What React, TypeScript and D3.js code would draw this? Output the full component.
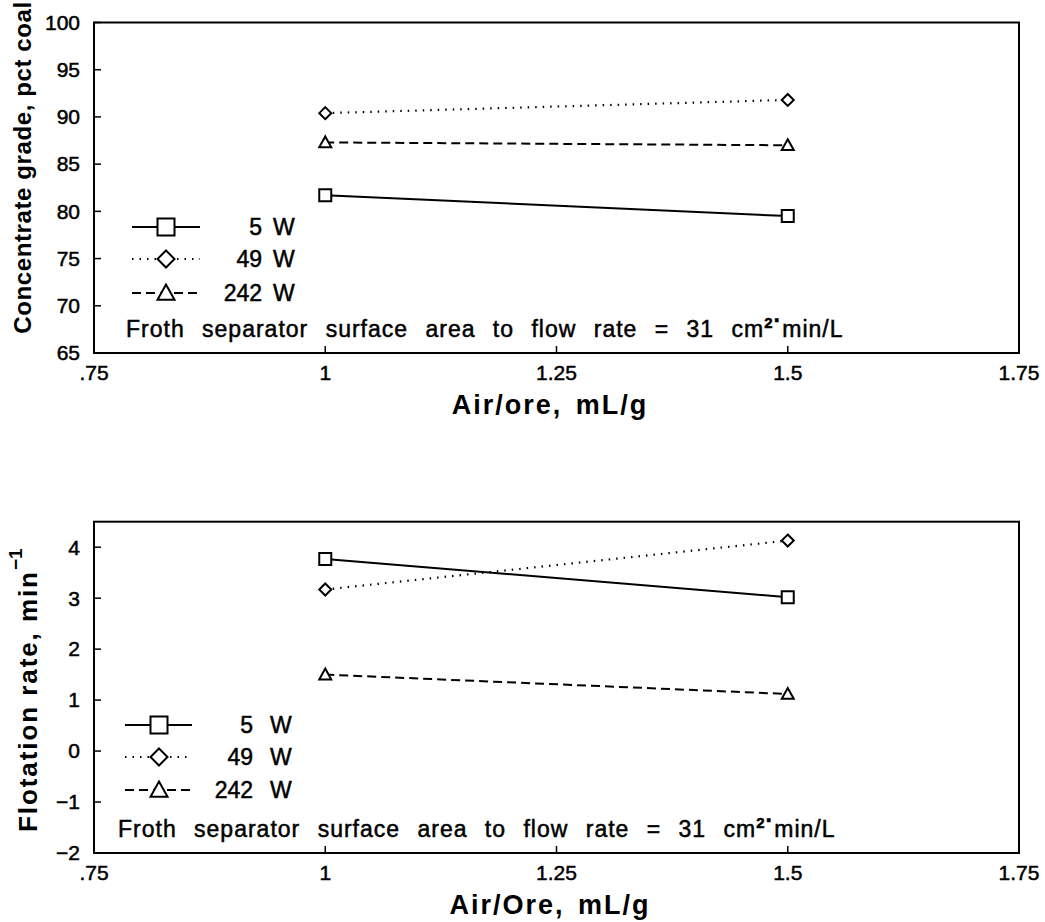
import React, { useEffect, useRef } from 'react';
import * as d3 from 'd3';

// values
const airOre = [1, 1.5];
const seriesNames = ['5', '49', '242'];
const gradeTop = {
  '5': [81.7, 79.5],
  '49': [90.4, 91.8],
  '242': [87.3, 87.0],
};
const rateBottom = {
  '5': [3.77, 3.02],
  '49': [3.17, 4.13],
  '242': [1.5, 1.12],
};
const xTicks = [0.75, 1, 1.25, 1.5, 1.75];
const xTickLabels = ['.75', '1', '1.25', '1.5', '1.75'];
const gradeTicks = [65, 70, 75, 80, 85, 90, 95, 100];
const rateTicks = [-2, -1, 0, 1, 2, 3, 4];

const W = 1045;
const H = 922;
const FONT = '"Liberation Sans", Arial, sans-serif';

const styles = {
  '5': { dash: null, marker: 'square' },
  '49': { dash: '1.5,6', marker: 'diamond' },
  '242': { dash: '9,5', marker: 'triangle' },
};

function markerPath(kind, size) {
  const s = size / 2;
  if (kind === 'square') return `M${-s},${-s}H${s}V${s}H${-s}Z`;
  if (kind === 'diamond') return `M0,${-s}L${s},0L0,${s}L${-s},0Z`;
  return `M0,${-s}L${s},${s * 0.8}L${-s},${s * 0.8}Z`;
}

// scanned text looks heavier than plain regular weight
function heavy(sel) {
  return sel.style('font-family', FONT).attr('stroke', '#000').attr('stroke-width', 0.5);
}

const App = () => {
  const svgRef = useRef(null);

  useEffect(() => {
    document.body.style.margin = '0';
    const svg = d3.select(svgRef.current);
    svg.selectAll('*').remove();

    const x = d3.scaleLinear().domain([0.75, 1.75]).range([94, 1019]);

    const panels = [
      {
        data: gradeTop, domain: [65, 100], ticks: gradeTicks, top: 22.5, bottom: 353,
        legendY: [227, 259, 293], lx0: 132, lx1: 200, lmark: 166, numRight: 262, wX: 273,
        annotX: 126, xTitle: 'Air/ore,  mL/g',
      },
      {
        data: rateBottom, domain: [-2, 4.5], ticks: rateTicks, top: 521.7, bottom: 853,
        legendY: [725, 757, 790], lx0: 125, lx1: 192, lmark: 159, numRight: 253, wX: 270,
        annotX: 118, xTitle: 'Air/Ore,  mL/g',
      },
    ];

    panels.forEach((p, pi) => {
      const y = d3.scaleLinear().domain(p.domain).range([p.bottom, p.top]);
      const g = svg.append('g');

      // frame
      g.append('rect')
        .attr('x', x(0.75)).attr('y', p.top)
        .attr('width', x(1.75) - x(0.75)).attr('height', p.bottom - p.top)
        .attr('fill', 'none').attr('stroke', '#000').attr('stroke-width', 2);

      // y ticks (inward) + labels
      p.ticks.forEach(t => {
        g.append('line')
          .attr('x1', x(0.75)).attr('x2', x(0.75) + 7)
          .attr('y1', y(t)).attr('y2', y(t))
          .attr('stroke', '#000').attr('stroke-width', 1.5);
        g.append('text')
          .attr('x', 80).attr('y', y(t))
          .attr('dy', '0.35em')
          .attr('text-anchor', 'end')
          .call(heavy).style('font-size', '21px')
          .text(d3.format('')(t));
      });

      // x ticks (inward) + labels
      xTicks.forEach((t, i) => {
        g.append('line')
          .attr('x1', x(t)).attr('x2', x(t))
          .attr('y1', p.bottom).attr('y2', p.bottom - 7)
          .attr('stroke', '#000').attr('stroke-width', 1.5);
        g.append('text')
          .attr('x', x(t)).attr('y', p.bottom + 20)
          .attr('dy', '0.35em')
          .attr('text-anchor', 'middle')
          .call(heavy).style('font-size', '21px')
          .text(xTickLabels[i]);
      });

      // series
      const line = d3.line().x((d, i) => x(airOre[i])).y(d => y(d));
      seriesNames.forEach(name => {
        const vals = p.data[name];
        const st = styles[name];
        g.append('path')
          .attr('d', line(vals))
          .attr('fill', 'none').attr('stroke', '#000')
          .attr('stroke-width', st.dash === '1.5,6' ? 2.2 : 2)
          .attr('stroke-dasharray', st.dash);
        vals.forEach((v, i) => {
          g.append('path')
            .attr('d', markerPath(st.marker, 12))
            .attr('transform', `translate(${x(airOre[i])},${y(v)})`)
            .attr('fill', '#fff').attr('stroke', '#000').attr('stroke-width', 2);
        });
      });

      // legend
      seriesNames.forEach((name, i) => {
        const st = styles[name];
        const ly = p.legendY[i];
        g.append('line')
          .attr('x1', p.lx0).attr('x2', p.lx1)
          .attr('y1', ly).attr('y2', ly)
          .attr('stroke', '#000').attr('stroke-width', 2)
          .attr('stroke-dasharray', st.dash);
        g.append('path')
          .attr('d', markerPath(st.marker, 17))
          .attr('transform', `translate(${p.lmark},${ly})`)
          .attr('fill', '#fff').attr('stroke', '#000').attr('stroke-width', 2);
        g.append('text')
          .attr('x', p.numRight).attr('y', ly).attr('dy', '0.36em')
          .attr('text-anchor', 'end')
          .call(heavy).style('font-size', '23px')
          .text(name);
        g.append('text')
          .attr('x', p.wX).attr('y', ly).attr('dy', '0.36em')
          .call(heavy).style('font-size', '23px')
          .text('W');
      });

      // annotation
      const ann = g.append('text')
        .attr('x', p.annotX).attr('y', p.bottom - 16)
        .call(heavy).style('font-size', '23px')
        .style('letter-spacing', '1px').style('word-spacing', '10px');
      ann.append('tspan').text('Froth separator surface area to flow rate = 31 cm');
      ann.append('tspan').attr('dy', -9).style('font-size', '15px').style('font-weight', 'bold').text('2');
      ann.append('tspan').attr('dy', 0).style('font-weight', 'bold').text('\u00b7');
      ann.append('tspan').attr('dy', 9).text('min/L');

      // x axis title
      g.append('text')
        .attr('x', 550).attr('y', p.bottom + 61)
        .attr('text-anchor', 'middle')
        .style('font-family', FONT).style('font-size', '27px').style('font-weight', 'bold')
        .style('letter-spacing', '2px').style('word-spacing', '4px')
        .text(p.xTitle);

      // y axis title
      if (pi === 0) {
        g.append('text')
          .attr('transform', `translate(31,${(p.top + p.bottom) / 2 - 20}) rotate(-90)`)
          .attr('text-anchor', 'middle')
          .attr('textLength', 332).attr('lengthAdjust', 'spacing')
          .style('font-family', FONT).style('font-size', '24px').style('font-weight', 'bold')
          .text('Concentrate grade, pct coal');
      } else {
        g.append('text')
          .attr('transform', `translate(37,832) rotate(-90)`)
          .attr('textLength', 260).attr('lengthAdjust', 'spacing')
          .style('font-family', FONT).style('font-size', '26px').style('font-weight', 'bold')
          .text('Flotation rate, min');
        g.append('text')
          .attr('transform', `translate(22,570) rotate(-90)`)
          .style('font-family', FONT).style('font-size', '19px').style('font-weight', 'bold')
          .text('\u22121');
      }
    });
  }, []);

  return <svg ref={svgRef} width={W} height={H} style={{ display: 'block', background: '#fff' }} />;
};

export default App;
